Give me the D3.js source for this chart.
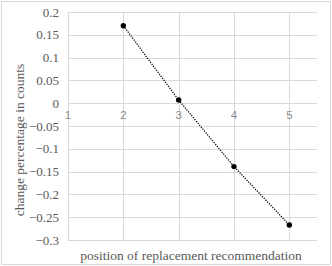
<!DOCTYPE html>
<html>
<head>
<meta charset="utf-8">
<script src="https://cdn.jsdelivr.net/npm/d3@7"></script>
<style>
    body { margin: 0; background: #fff; }
    svg { display: block; }
    .grid line { stroke: #d9d9d9; stroke-width: 1; }
    .ytick { font-family: "Liberation Serif", serif; font-size: 13px; fill: #595959; }
    .xtick { font-family: "Liberation Sans", sans-serif; font-size: 11.5px; fill: #8c8c8c; }
    .title { font-family: "Liberation Serif", serif; font-size: 13.5px; fill: #595959; }
</style>
</head>
<body>
<svg id="svg"></svg>
<script>
// data
const positions = [2, 3, 4, 5];
const changes = [0.170, 0.007, -0.139, -0.267];
const xTicks = [1, 2, 3, 4, 5];
const yTicks = [0.2, 0.15, 0.1, 0.05, 0, -0.05, -0.1, -0.15, -0.2, -0.25, -0.3];

const width = 332, height = 266;
const plot = { left: 68, right: 317, top: 12, bottom: 240 };

const svg = d3.select("svg")
    .attr("width", width)
    .attr("height", height);

// chart border
svg.append("rect")
    .attr("x", 1.5).attr("y", 1.5)
    .attr("width", width - 3).attr("height", height - 3)
    .attr("fill", "#fff")
    .attr("stroke", "#d9d9d9");

const x = d3.scaleLinear().domain([1, 5.5]).range([plot.left, plot.right]);
const y = d3.scaleLinear().domain([-0.3, 0.2]).range([plot.bottom, plot.top]);

const grid = svg.append("g").classed("grid", true);

grid.selectAll("line.h")
    .data(yTicks)
    .join("line")
        .classed("h", true)
        .attr("x1", plot.left).attr("x2", plot.right)
        .attr("y1", d => Math.round(y(d)) + 0.5)
        .attr("y2", d => Math.round(y(d)) + 0.5);

grid.selectAll("line.v")
    .data(xTicks)
    .join("line")
        .classed("v", true)
        .attr("x1", d => Math.round(x(d)) + 0.5)
        .attr("x2", d => Math.round(x(d)) + 0.5)
        .attr("y1", plot.top).attr("y2", plot.bottom);

svg.selectAll("text.ytick")
    .data(yTicks)
    .join("text")
        .classed("ytick", true)
        .attr("x", plot.left - 9)
        .attr("y", d => y(d))
        .attr("dy", "0.35em")
        .attr("text-anchor", "end")
        .text(d => d3.format("")(d));

svg.selectAll("text.xtick")
    .data(xTicks)
    .join("text")
        .classed("xtick", true)
        .attr("x", d => x(d))
        .attr("y", y(0) + 16)
        .attr("text-anchor", "middle")
        .text(d => d);

const line = d3.line()
    .x((d, i) => x(positions[i]))
    .y(d => y(d));

svg.append("path")
    .attr("d", line(changes))
    .attr("fill", "none")
    .attr("stroke", "#000")
    .attr("stroke-width", 1.25)
    .attr("stroke-dasharray", "1.25,1.25");

svg.selectAll("circle")
    .data(changes)
    .join("circle")
        .attr("cx", (d, i) => x(positions[i]))
        .attr("cy", d => y(d))
        .attr("r", 2.7)
        .attr("fill", "#000");

svg.append("text")
    .classed("title", true)
    .attr("transform", "translate(24,140) rotate(-90)")
    .attr("text-anchor", "middle")
    .text("change percentage in counts");

svg.append("text")
    .classed("title", true)
    .attr("x", 191)
    .attr("y", 260)
    .attr("text-anchor", "middle")
    .text("position of replacement recommendation");
</script>
</body>
</html>
